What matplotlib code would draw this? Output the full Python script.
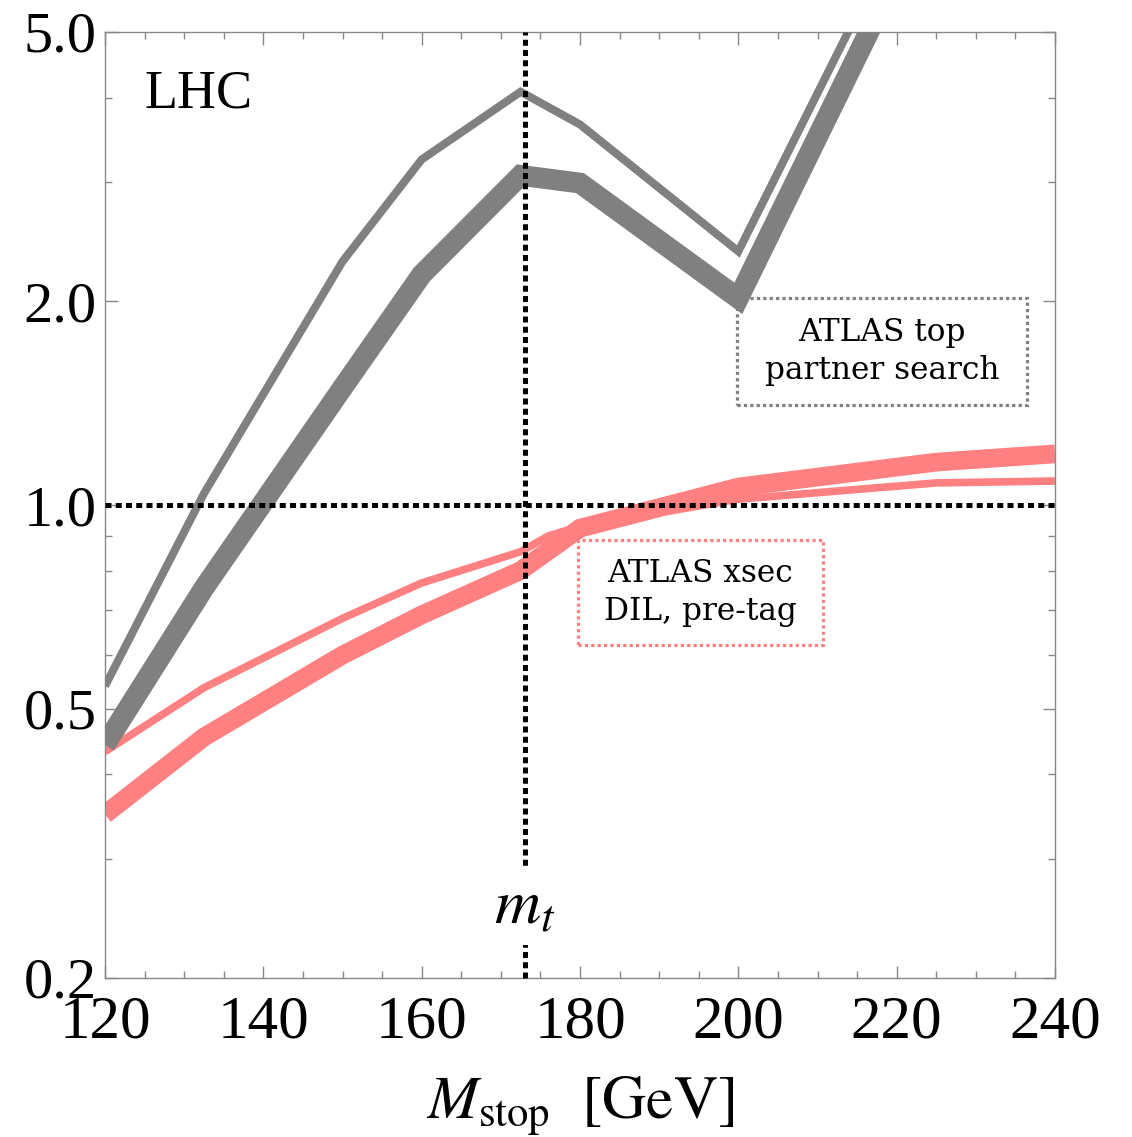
import numpy as np
import matplotlib
matplotlib.use("Agg")
from matplotlib import pyplot
from matplotlib.patches import Rectangle
from matplotlib.ticker import FixedLocator, FixedFormatter, NullFormatter

# ATLAS top partner search: thin (upper) and thick (lower) curves
gray_thin_x = [120, 132.5, 150, 160, 172.5, 180, 200, 225]
gray_thin_y = [0.54, 1.04, 2.29, 3.24, 4.08, 3.65, 2.37, 9.1]
gray_thick_x = [120, 132.5, 150, 160, 172.5, 180, 200, 225]
gray_thick_y = [0.442, 0.754, 1.49, 2.19, 3.07, 2.99, 2.02, 7.98]

# ATLAS xsec DIL pre-tag: thin and thick curves
red_thin_x = [120, 132.5, 150, 160, 172.5, 176, 180, 200, 225, 240]
red_thin_y = [0.432, 0.537, 0.68, 0.767, 0.853, 0.90, 0.93, 1.02, 1.078, 1.085]
red_thick_x = [120, 132.5, 150, 160, 172.5, 180, 200, 225, 240]
red_thick_y = [0.349, 0.454, 0.60, 0.688, 0.80, 0.924, 1.063, 1.157, 1.19]

M_TOP = 173
y_major = [0.2, 0.5, 1.0, 2.0, 5.0]
y_major_labels = ['0.2', '0.5', '1.0', '2.0', '5.0']
y_minor = [0.3, 0.4, 0.6, 0.7, 0.8, 0.9, 3, 4]
x_major = [120, 140, 160, 180, 200, 220, 240]

GRAY = '#808080'
RED = '#ff8080'

pyplot.rcParams['font.family'] = ['Liberation Serif', 'DejaVu Serif']
pyplot.rcParams['mathtext.fontset'] = 'stix'

fig = pyplot.figure(figsize=(11.32, 11.37), dpi=100)
ax = fig.add_axes([105 / 1132, 159 / 1137, 950 / 1132, 946 / 1137])
ax.set_yscale('log')

line_kw = dict(solid_joinstyle='miter', solid_capstyle='butt')
ax.plot(red_thick_x, red_thick_y, color=RED, lw=13.5, zorder=2, **line_kw)
ax.plot(red_thin_x, red_thin_y, color=RED, lw=5.5, zorder=2, **line_kw)
ax.plot(gray_thick_x, gray_thick_y, color=GRAY, lw=15, zorder=3, **line_kw)
ax.plot(gray_thin_x, gray_thin_y, color=GRAY, lw=5.8, zorder=3, **line_kw)

ax.axhline(1.0, color='black', lw=3.6, dashes=(1.2, 0.85), zorder=5)
ax.axvline(M_TOP, color='black', lw=3.6, dashes=(1.2, 0.85), zorder=5,
           clip_on=False)

ax.set_xlim(120, 240)
ax.set_ylim(0.2, 5.0)

ax.xaxis.set_major_locator(FixedLocator(x_major))
ax.xaxis.set_minor_locator(FixedLocator(np.arange(120, 241, 5)))
ax.yaxis.set_major_locator(FixedLocator(y_major))
ax.yaxis.set_major_formatter(FixedFormatter(y_major_labels))
ax.yaxis.set_minor_locator(FixedLocator(y_minor))
ax.yaxis.set_minor_formatter(NullFormatter())

ax.tick_params(which='both', direction='in', top=True, right=True,
               color='#888888', width=1)
ax.tick_params(which='major', length=9)
ax.tick_params(which='minor', length=5)
ax.tick_params(axis='y', labelsize=42, pad=6)
ax.tick_params(axis='x', labelsize=44, pad=12)
for s in ax.spines.values():
    s.set_color('#888888')
    s.set_linewidth(1)

ax.set_xlabel(r'$M_{\mathrm{stop}}\ \ [\mathrm{GeV}]$', fontsize=44, labelpad=18)

ax.text(0.042, 0.934, 'LHC', transform=ax.transAxes, fontsize=39,
        ha='left', va='center')

ax.text(M_TOP, 0.254, r'$m_t$', fontsize=46, ha='center', va='center',
        zorder=6, bbox=dict(fc='white', ec='none', pad=6))

# annotation boxes
ax.add_patch(Rectangle((0.665, 0.6057), 0.3055, 0.1131, transform=ax.transAxes,
                       fill=False, ec=GRAY, lw=2.3, ls=(0, (1, 1)), zorder=4))
ax.text(0.8177, 0.6622, 'ATLAS top\npartner search', transform=ax.transAxes,
        fontsize=22.5, family='DejaVu Serif', ha='center', va='center',
        linespacing=1.3)
ax.add_patch(Rectangle((0.4979, 0.352), 0.2579, 0.111, transform=ax.transAxes,
                       fill=False, ec=RED, lw=2.3, ls=(0, (1, 1)), zorder=4))
ax.text(0.6268, 0.4075, 'ATLAS xsec\nDIL, pre-tag', transform=ax.transAxes,
        fontsize=22.5, family='DejaVu Serif', ha='center', va='center',
        linespacing=1.3)

pyplot.savefig('out.png', dpi=100)
